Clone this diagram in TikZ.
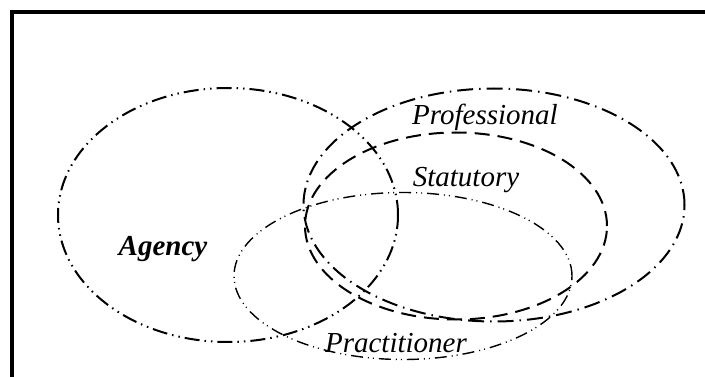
\documentclass[tikz,border=0pt]{standalone}
\usepackage{fontspec}
\setmainfont{Liberation Serif}
\usepackage{tikz}
\usetikzlibrary{shapes,positioning}
\tikzstyle{frame} = [line width=4pt, color=black]
\tikzstyle{vset} = [ellipse, draw=black, line width=2pt, inner sep=0pt, outer sep=0pt]
\tikzstyle{vlabel} = [anchor=base, inner sep=0pt, font=\fontsize{29}{31}\selectfont\itshape]

\begin{document}
\begin{tikzpicture}[x=1pt, y=-1pt]
    \useasboundingbox (0,0) rectangle (705,377);
    % frame
    \draw[frame] (12,377) -- (12,12) -- (705,12);

    % sets
    \node[vset, minimum width=340pt, minimum height=254pt, dash pattern=on 15pt off 5pt on 1.5pt off 5pt on 1.5pt off 5pt] (agency) at (228,215) {};
    \node[vset, minimum width=381pt, minimum height=233pt, dash pattern=on 16pt off 6pt on 1.5pt off 6pt] (professional) at (494,205) {};
    \node[vset, minimum width=302pt, minimum height=187pt, dash pattern=on 15pt off 8pt] (statutory) at (456,226) {};
    \node[vset, line width=1.4pt, minimum width=338pt, minimum height=167pt, dash pattern=on 12pt off 5pt on 1pt off 4pt on 1pt off 5pt] (practitioner) at (403,276) {};

    % labels
    \node[vlabel, font=\fontsize{29}{31}\selectfont\bfseries\itshape] (agencytext) at (163,255) {Agency};
    \node[vlabel] (professionaltext) at (485,125) {Professional};
    \node[vlabel] (statutorytext) at (466,187) {Statutory};
    \node[vlabel] (practitionertext) at (396,352) {Practitioner};
\end{tikzpicture}
\end{document}
